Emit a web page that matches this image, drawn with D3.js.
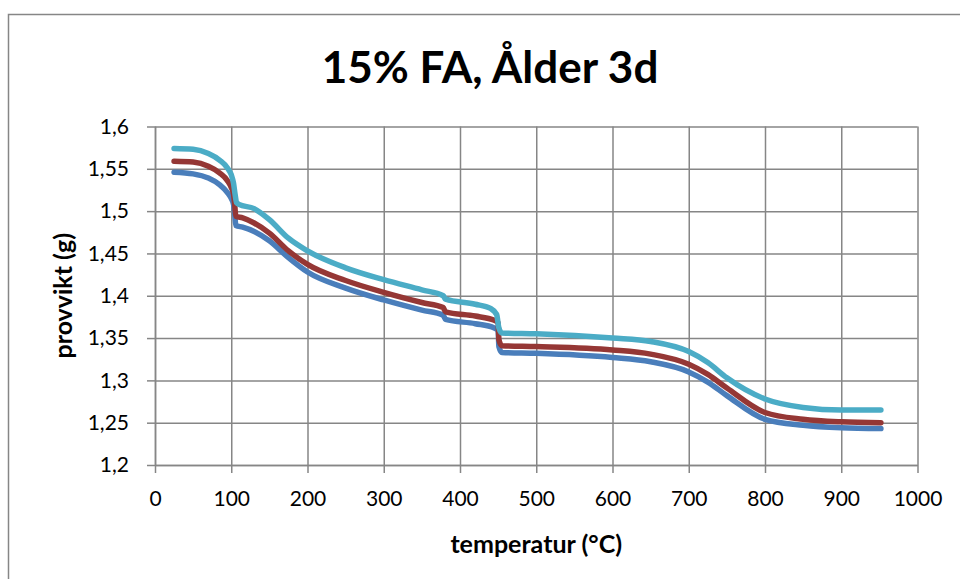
<!DOCTYPE html>
<html>
<head>
<meta charset="utf-8">
<script src="https://cdnjs.cloudflare.com/ajax/libs/d3/7.8.5/d3.min.js"></script>
<style>
    body { margin: 0; background: #fff; }
    svg text { font-family: Lato, "Open Sans", sans-serif; fill: #000; }
</style>
</head>
<body>
<script>
// data
var chartTitle = "15% FA, Ålder 3d",
    xTitle = "temperatur (°C)",
    yTitle = "provvikt (g)";

var xTicks = [0, 100, 200, 300, 400, 500, 600, 700, 800, 900, 1000];
var yTicks = [1.2, 1.25, 1.3, 1.35, 1.4, 1.45, 1.5, 1.55, 1.6];

var blueTemp  = [25, 50, 70, 85, 95, 100, 103, 104.5, 106, 115, 130, 150, 175, 200, 250, 300, 350, 378, 381, 420, 445, 450, 451, 455, 500, 600, 650, 700, 725, 750, 800, 850, 900, 952];
var blueVal   = [1.546, 1.544, 1.539, 1.531, 1.522, 1.515, 1.508, 1.497, 1.483, 1.481, 1.476, 1.465, 1.445, 1.428, 1.409, 1.395, 1.383, 1.377, 1.372, 1.367, 1.362, 1.359, 1.340, 1.333, 1.332, 1.327, 1.322, 1.310, 1.298, 1.282, 1.254, 1.247, 1.244, 1.243];

var redTemp   = [25, 50, 70, 85, 95, 100, 103, 104.5, 106, 115, 130, 150, 175, 200, 250, 300, 350, 378, 381, 420, 445, 450, 451, 455, 500, 600, 650, 700, 725, 750, 800, 850, 900, 952];
var redVal    = [1.559, 1.558, 1.553, 1.545, 1.536, 1.528, 1.520, 1.508, 1.494, 1.492, 1.486, 1.474, 1.453, 1.437, 1.418, 1.404, 1.392, 1.386, 1.381, 1.376, 1.371, 1.368, 1.348, 1.341, 1.340, 1.336, 1.331, 1.319, 1.307, 1.291, 1.262, 1.254, 1.251, 1.250];

var cyanTemp  = [25, 50, 70, 85, 95, 100, 103, 105, 107, 110, 130, 150, 175, 200, 250, 300, 350, 378, 381, 420, 440, 448, 451, 455, 500, 600, 650, 700, 725, 750, 800, 850, 900, 952];
var cyanVal   = [1.574, 1.573, 1.568, 1.560, 1.551, 1.543, 1.533, 1.520, 1.510, 1.508, 1.503, 1.490, 1.468, 1.453, 1.433, 1.419, 1.407, 1.400, 1.396, 1.390, 1.385, 1.378, 1.362, 1.356, 1.355, 1.350, 1.346, 1.334, 1.321, 1.303, 1.278, 1.268, 1.265, 1.265];

var seriesColors = ["#4A7EBB", "#953735", "#4BACC6"];

var width = 960,
    height = 579,
    plotLeft = 155,
    plotRight = 917.5,
    plotTop = 126.5,
    plotBottom = 465;

var svg = d3.select("body").append("svg")
            .attr("width", width)
            .attr("height", height);

svg.append("rect")
   .attr("width", width)
   .attr("height", height)
   .style("fill", "#fff");

// chart frame (runs off the right and bottom edges)
svg.append("rect")
   .attr("x", 8.5)
   .attr("y", 14.5)
   .attr("width", 960)
   .attr("height", 600)
   .style("fill", "none")
   .style("stroke", "#868686")
   .style("stroke-width", 1.5);

var x = d3.scaleLinear().domain([0, 1000]).range([plotLeft, plotRight]);
var y = d3.scaleLinear().domain([1.2, 1.6]).range([plotBottom, plotTop]);

var commaFmt = function(d) { return String(+d.toFixed(2)).replace(".", ","); };

// grid lines
svg.append("g")
   .attr("class", "xgrid")
   .attr("transform", "translate(0," + plotBottom + ")")
   .call(d3.axisBottom(x).tickValues(xTicks).tickSize(-(plotBottom - plotTop)).tickFormat(""))
   .call(function(g) { g.select(".domain").remove(); });

svg.append("g")
   .attr("class", "ygrid")
   .attr("transform", "translate(" + plotLeft + ",0)")
   .call(d3.axisLeft(y).tickValues(yTicks).tickSize(-(plotRight - plotLeft)).tickFormat(""))
   .call(function(g) { g.select(".domain").remove(); });

svg.selectAll(".xgrid line, .ygrid line")
   .style("stroke", "#868686")
   .style("stroke-width", 1.5);

// axes
var xAxis = svg.append("g")
               .attr("transform", "translate(0," + plotBottom + ")")
               .call(d3.axisBottom(x).tickValues(xTicks).tickFormat(d3.format("d")).tickSize(8).tickPadding(18).tickSizeOuter(0));

var yAxis = svg.append("g")
               .attr("transform", "translate(" + plotLeft + ",0)")
               .call(d3.axisLeft(y).tickValues(yTicks).tickFormat(commaFmt).tickSize(8).tickPadding(18).tickSizeOuter(0));

[xAxis, yAxis].forEach(function(a) {
    a.select(".domain").style("stroke", "#868686").style("stroke-width", 1.5);
    a.selectAll(".tick line").style("stroke", "#868686").style("stroke-width", 1.5);
    a.selectAll(".tick text").style("font-size", "21px").style("font-family", "Lato, sans-serif").style("fill", "#000");
});

// series
var line = d3.line()
             .x(function(d) { return x(d[0]); })
             .y(function(d) { return y(d[1]); })
             .curve(d3.curveMonotoneX);

var series = [d3.zip(blueTemp, blueVal), d3.zip(redTemp, redVal), d3.zip(cyanTemp, cyanVal)];

svg.selectAll(".series")
   .data(series)
   .enter()
   .append("path")
   .attr("class", "series")
   .attr("d", line)
   .style("fill", "none")
   .style("stroke", function(d, i) { return seriesColors[i]; })
   .style("stroke-width", 5.5)
   .style("stroke-linecap", "round")
   .style("stroke-linejoin", "round");

// titles
svg.append("text")
   .attr("x", 490)
   .attr("y", 83)
   .attr("text-anchor", "middle")
   .style("font-size", "44px")
   .style("font-weight", "bold")
   .text(chartTitle);

svg.append("text")
   .attr("x", (plotLeft + plotRight) / 2)
   .attr("y", 553)
   .attr("text-anchor", "middle")
   .style("font-size", "25px")
   .style("font-weight", "bold")
   .text(xTitle);

svg.append("text")
   .attr("transform", "translate(72," + ((plotTop + plotBottom) / 2) + ") rotate(-90)")
   .attr("text-anchor", "middle")
   .style("font-size", "25px")
   .style("font-weight", "bold")
   .text(yTitle);
</script>
</body>
</html>
